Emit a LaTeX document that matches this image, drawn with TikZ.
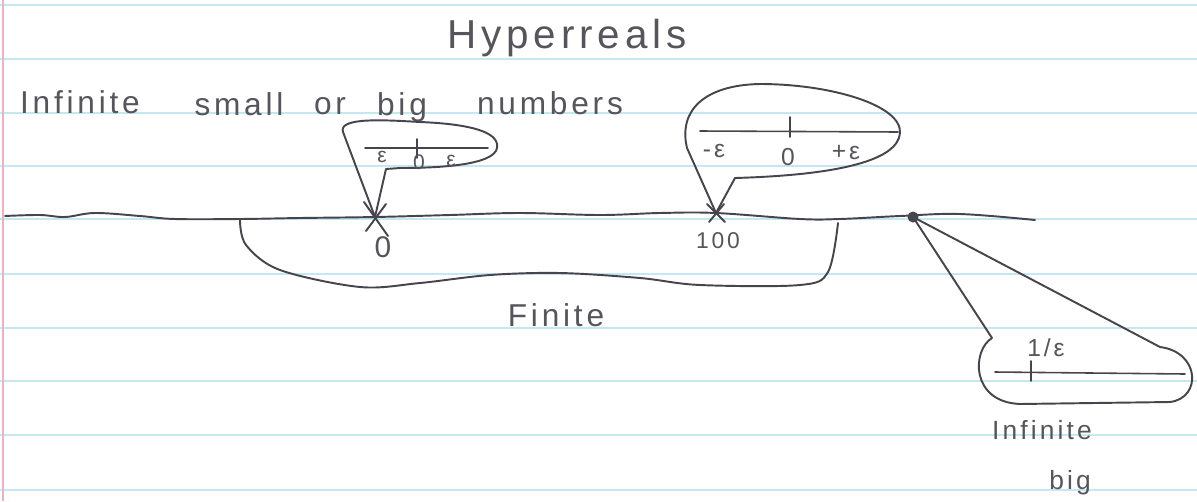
\documentclass[tikz,border=0pt]{standalone}
\usepackage{fontspec}
\setmainfont{Liberation Sans}
\newfontfamily\hand[LetterSpace=12]{Liberation Sans}
\definecolor{pen}{RGB}{72,68,78}
\definecolor{ink}{RGB}{85,85,92}
\definecolor{rule}{RGB}{196,232,242}
\definecolor{margin}{RGB}{236,178,196}
\begin{document}
\begin{tikzpicture}[x=0.02cm,y=-0.02cm,
  stroke/.style={draw=pen,line width=1.1pt,line cap=round,line join=round},
  thin stroke/.style={draw=pen,line width=0.9pt,line cap=round},
  handtext/.style={text=ink,inner sep=0pt,font=\hand\fontsize{17}{20}\selectfont},
  smalltext/.style={text=ink,inner sep=0pt,font=\hand\fontsize{12}{14}\selectfont},
  paperline/.style={draw=rule,line width=1.2pt}]
\useasboundingbox (0,0) rectangle (1197,501);
\fill[white] (0,0) rectangle (1197,501);
% ruled paper
\foreach \yy in {5,59,113,166,219,274,328,381,435,490}
  \draw[paperline] (0,\yy) -- (1197,\yy);
\draw[margin,line width=1pt] (3,0) -- (3,501);

% titles
\node[handtext,font=\hand\fontsize{23}{27}\selectfont] (title) at (567,38) {Hyperreals};
\node[handtext,font=\hand\fontsize{18}{21}\selectfont] (w1) at (80,102) {Infinite};
\node[handtext,font=\hand\fontsize{18}{21}\selectfont] (w2) at (239,104) {small};
\node[handtext,font=\hand\fontsize{18}{21}\selectfont] (w3) at (330,106) {or};
\node[handtext,font=\hand\fontsize{18}{21}\selectfont] (w4) at (402,107) {big};
\node[handtext,font=\hand\fontsize{18}{21}\selectfont] (w5) at (550,103) {numbers};

% main line
\coordinate (p0) at (375,217);
\coordinate (p100) at (716,213);
\coordinate (pinf) at (913,217);
\draw[stroke] plot[smooth,tension=0.6] coordinates {(5,216) (40,215) (65,217) (95,213) (140,216) (175,219) (240,219) (300,218) (375,217) (450,215) (520,213) (600,215) (660,213) (716,213) (800,219) (840,219) (900,216) (960,214) (1035,220)};

% X marks
\draw[stroke] (364,202) -- (388,236);
\draw[stroke] (386,204) -- (366,231);
\draw[stroke] (707,204) -- (725,222);
\draw[stroke] (724,204) -- (709,222);
\fill[pen] (pinf) circle (5.5);

\node[handtext] (l0) at (383,247) {0};
\node[handtext,font=\hand\fontsize{13}{15}\selectfont] (l100) at (718,241) {100};

% finite brace
\draw[stroke] plot[smooth,tension=0.55] coordinates {(240,220) (246,245) (280,270) (360,287) (420,283) (490,275) (560,273) (640,278) (700,285) (800,285) (828,272) (838,223)};
\node[handtext,font=\hand\fontsize{18}{21}\selectfont] (finite) at (556,315) {Finite};

% small bubble near 0
\draw[stroke] (p0) -- (343,132) .. controls (338,117) and (385,120) .. (420,122)
  .. controls (470,124) and (500,132) .. (497,148)
  .. controls (494,165) and (440,168) .. (400,168) -- (386,169) -- (p0);
\draw[thin stroke] (365,148) -- (488,148);
\draw[thin stroke] (417,139) -- (417,158);
\node[smalltext] (s1) at (382,157) {ε};
\node[smalltext] (s2) at (419,162) {0};
\node[smalltext] (s3) at (451,161) {ε};

% big bubble near 100
\draw[stroke] (p100) -- (687,148) .. controls (678,110) and (705,85) .. (760,84)
  .. controls (830,84) and (902,105) .. (900,133)
  .. controls (898,160) and (840,175) .. (735,178) -- (p100);
\draw[thin stroke] (700,131) -- (898,132);
\draw[thin stroke] (790,117) -- (790,137);
\node[smalltext,font=\hand\fontsize{14}{16}\selectfont] (b1) at (714,151) {-ε};
\node[smalltext,font=\hand\fontsize{14}{16}\selectfont] (b2) at (788,157) {0};
\node[smalltext,font=\hand\fontsize{14}{16}\selectfont] (b3) at (846,153) {+ε};

% infinite bubble
\draw[stroke] (pinf) -- (992,338) .. controls (972,350) and (970,402) .. (1020,404)
  -- (1170,402) .. controls (1202,398) and (1200,352) .. (1160,347) -- (pinf);
\draw[thin stroke] (995,372) -- (1185,374);
\draw[thin stroke] (1031,361) -- (1031,381);
\node[smalltext,font=\hand\fontsize{14}{16}\selectfont] (inv) at (1046,348) {1/ε};
\node[handtext,font=\hand\fontsize{15}{18}\selectfont] (inf1) at (1042,430) {Infinite};
\node[handtext,font=\hand\fontsize{15}{18}\selectfont] (inf2) at (1070,483) {big};
\end{tikzpicture}
\end{document}
